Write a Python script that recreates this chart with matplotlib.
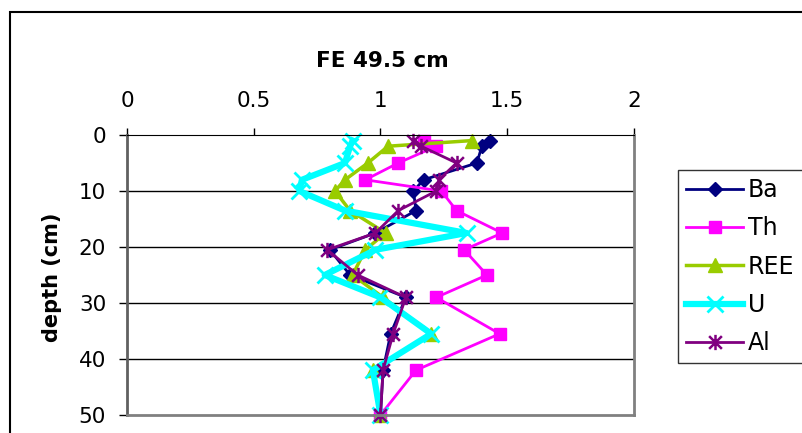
import matplotlib
matplotlib.use('Agg')
import matplotlib.pyplot as plt
from matplotlib.patches import Rectangle
from matplotlib.path import Path

plt.rcParams['font.family'] = ['DejaVu Sans']

# depth of each sample (cm)
depth = [1, 2, 5, 8, 10, 13.5, 17.5, 20.5, 25, 29, 35.5, 42, 50]

# enrichment factors
ba = [1.43, 1.40, 1.38, 1.17, 1.13, 1.14, 0.98, 0.80, 0.88, 1.10, 1.04, 1.01, 1.00]
th = [1.17, 1.22, 1.07, 0.94, 1.24, 1.30, 1.48, 1.33, 1.42, 1.22, 1.47, 1.14, 1.00]
ree = [1.36, 1.03, 0.95, 0.86, 0.82, 0.88, 1.02, 0.94, 0.89, 1.01, 1.20, 0.97, 1.00]
u = [0.89, 0.88, 0.86, 0.69, 0.68, 0.86, 1.34, 0.98, 0.78, 1.00, 1.20, 0.97, 1.00]
al = [1.13, 1.16, 1.30, 1.23, 1.22, 1.07, 0.98, 0.79, 0.91, 1.10, 1.05, 1.01, 1.00]

xticks = [0, 0.5, 1, 1.5, 2]
xticklabels = ['0', '0.5', '1', '1.5', '2']
yticks = [0, 10, 20, 30, 40, 50]

# excel-style star: an X with a vertical bar
star = Path([(-1, -1), (1, 1), (-1, 1), (1, -1), (0, -1.2), (0, 1.2)],
            [Path.MOVETO, Path.LINETO, Path.MOVETO, Path.LINETO, Path.MOVETO, Path.LINETO])

fig = plt.figure(figsize=(8.03, 4.33), dpi=100)

# outer chart frame (cut off at right and bottom like the original)
fig.patches.append(Rectangle((10 / 803, -0.1), 1.2, 1 - 12 / 433 + 0.1,
                             transform=fig.transFigure, fill=False,
                             edgecolor='black', linewidth=1.5))

ax = fig.add_axes([127 / 803, 1 - 415 / 433, (634 - 127) / 803, (415 - 135) / 433])

ax.plot(ba, depth, color='#000080', marker='D', markersize=7, lw=2, label='Ba', clip_on=False)
ax.plot(th, depth, color='#FF00FF', marker='s', markersize=9, lw=2, label='Th', clip_on=False)
ax.plot(ree, depth, color='#99CC00', marker='^', markersize=10, lw=2.5, label='REE', clip_on=False)
ax.plot(u, depth, color='#00FFFF', marker='x', markersize=12, mew=2, lw=4.5, label='U', clip_on=False)
ax.plot(al, depth, color='#800080', marker=star, markersize=11, mew=1.8, lw=2, label='Al', clip_on=False)

ax.set_xlim(0, 2)
ax.set_ylim(50, 0)
ax.xaxis.tick_top()
ax.set_xticks(xticks)
ax.set_xticklabels(xticklabels)
ax.set_yticks(yticks)
ax.tick_params(axis='x', direction='out', length=5, width=1, pad=12, labelsize=15.5)
ax.tick_params(axis='y', direction='out', length=6, width=1, pad=9, labelsize=15.5)

for y in [10, 20, 30, 40]:
    ax.axhline(y, color='black', lw=1, zorder=0)

ax.spines['top'].set_color('black')
ax.spines['left'].set_color('#606060')
ax.spines['left'].set_linewidth(2)
ax.spines['right'].set_color('#808080')
ax.spines['right'].set_linewidth(2)
ax.spines['bottom'].set_color('#808080')
ax.spines['bottom'].set_linewidth(2)

fig.text(382 / 803, 1 - 61 / 433, 'FE 49.5 cm', ha='center', va='center',
         fontsize=15.5, fontweight='bold')
fig.text(52 / 803, 1 - 277 / 433, 'depth (cm)', ha='center', va='center',
         rotation=90, fontsize=15, fontweight='bold')

# legend box runs off the right edge of the image
leg = fig.legend(loc='upper left', bbox_to_anchor=(678 / 803, 1 - 170 / 433, 0.2, 0),
                 mode='expand', fontsize=17, frameon=True, fancybox=False,
                 handlelength=2.4, handletextpad=0.2, labelspacing=0.6,
                 borderpad=0.35, borderaxespad=0)
leg.get_frame().set_edgecolor('black')
leg.get_frame().set_linewidth(1)

fig.savefig('out.png', dpi=100)
